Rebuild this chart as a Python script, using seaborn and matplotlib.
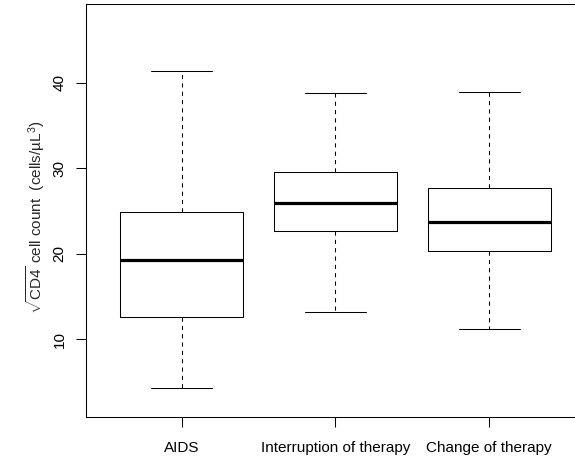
import numpy as np
import pandas as pd
import matplotlib
matplotlib.use("Agg")
import matplotlib.pyplot as plt
import seaborn as sns

# Five-number summaries
groups = ["AIDS", "Interruption of therapy", "Change of therapy"]
lower_whisker = [4.31, 13.23, 11.21]
q1 = [12.65, 22.67, 20.33]
median = [19.27, 25.90, 23.68]
q3 = [24.85, 29.60, 27.73]
upper_whisker = [41.37, 38.83, 38.95]
y_ticks = [10, 20, 30, 40]

rows = []
for g, lo, a, m, b, hi in zip(groups, lower_whisker, q1, median, q3, upper_whisker):
    for v in (lo, a, m, b, hi):
        rows.append((g, v))
df = pd.DataFrame(rows, columns=["group", "value"])

sns.set_theme(style="ticks")
plt.rcParams["font.family"] = ["Liberation Sans", "DejaVu Sans"]
plt.rcParams["mathtext.fontset"] = "custom"
plt.rcParams["mathtext.rm"] = "Liberation Sans"
plt.rcParams["mathtext.it"] = "Liberation Sans:italic"
plt.rcParams["mathtext.bf"] = "Liberation Sans:bold"

W, H = 575, 457
fig = plt.figure(figsize=(W / 100, H / 100), dpi=100)
left, right, top, bottom = 86, 590, 4, 417
ax = fig.add_axes([left / W, (H - bottom) / H, (right - left) / W, (bottom - top) / H])

sns.boxplot(
    data=df, x="group", y="value", order=groups, whis=(0, 100), width=0.8,
    fill=False, color="black", linewidth=0.75,
    medianprops=dict(linewidth=2.3, color="black"),
    whiskerprops=dict(linestyle=(0, (4, 4)), color="black"),
    capprops=dict(color="black"),
    boxprops=dict(color="black"),
    ax=ax,
)

ax.set_xlim(-0.622, 2.655)
ax.set_ylim(0.92, 49.2)
ax.set_yticks(y_ticks)
ax.set_yticklabels([str(t) for t in y_ticks], rotation=90, va="center")
ax.set_xlabel("")
ax.set_ylabel(r"$\sqrt{\mathrm{CD4}}$ cell count  (cells/µL$^{3}$)", fontsize=11)
ax.yaxis.set_label_coords(-0.0774, 0.484)

ax.tick_params(axis="both", length=7, width=0.75, color="black", labelsize=11, labelcolor="black")
ax.tick_params(axis="x", pad=10)
ax.tick_params(axis="y", pad=7)
for s in ["top", "left", "bottom"]:
    ax.spines[s].set_visible(True)
    ax.spines[s].set_color("black")
    ax.spines[s].set_linewidth(0.75)
ax.spines["right"].set_visible(False)
ax.set_facecolor("white")
fig.patch.set_facecolor("white")

fig.savefig("out.png", dpi=100)
